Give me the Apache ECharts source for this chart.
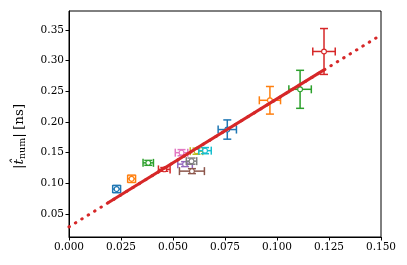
<!DOCTYPE html>
<html><head><meta charset="utf-8">
<script src="https://cdn.jsdelivr.net/npm/echarts@6/dist/echarts.min.js"></script>
<style>html,body{margin:0;padding:0;background:#fff}#c{width:407px;height:265px}</style>
</head><body><div id="c"></div>
<script>
// measured points (x, y) with symmetric errors
const ptX    = [0.0229, 0.0301, 0.0381, 0.0458, 0.0558, 0.0591, 0.0541, 0.0589, 0.0613, 0.0654, 0.0761, 0.0966, 0.1111, 0.1226];
const ptY    = [0.0907, 0.1074, 0.1334, 0.1227, 0.1313, 0.1199, 0.1500, 0.1362, 0.1524, 0.1533, 0.1877, 0.2354, 0.2533, 0.3150];
const ptXErr = [0.0019, 0.0019, 0.0025, 0.0028, 0.0035, 0.0060, 0.0030, 0.0025, 0.0030, 0.0030, 0.0044, 0.0051, 0.0054, 0.0054];
const ptYErr = [0.0060, 0.0060, 0.0040, 0.0030, 0.0040, 0.0040, 0.0050, 0.0050, 0.0050, 0.0050, 0.0157, 0.0225, 0.0310, 0.0374];
const ptColor = ['#1f77b4','#ff7f0e','#2ca02c','#d62728','#9467bd','#8c564b','#e377c2','#7f7f7f','#bcbd22','#17becf','#1f77b4','#ff7f0e','#2ca02c','#d62728'];
// fitted line: solid over data range, dotted extrapolation
const fitSolidX = [0.0186, 0.1226];
const fitSolidY = [0.0678, 0.2850];
const fitDotX = [0.0, 0.15];
const fitDotY = [0.0290, 0.3420];

const font = 'DejaVu Serif';
const chart = echarts.init(document.getElementById('c'), null, {renderer:'canvas'});
const errData = ptX.map((x,i)=>[x, ptY[i], ptXErr[i], ptYErr[i], i]);
const cap = 4;
chart.setOption({
  animation:false,
  grid:{left:69, right:26, top:11, bottom:28, show:true, borderColor:'#000', borderWidth:1, backgroundColor:'transparent'},
  xAxis:{type:'value', min:0, max:0.15, interval:0.025,
    axisLine:{show:true, onZero:false, lineStyle:{color:'#000', width:1}},
    axisTick:{show:true, length:3.5, lineStyle:{color:'#000'}},
    splitLine:{show:false},
    axisLabel:{fontFamily:font, fontSize:10.5, color:'#000', margin:5, formatter:v=>v.toFixed(3)}},
  yAxis:{type:'value', min:0.0125, max:0.381, splitNumber:7,
    axisLine:{show:true, onZero:false, lineStyle:{color:'#000', width:1}},
    axisTick:{show:true, length:3.5, lineStyle:{color:'#000'}},
    splitLine:{show:false},
    axisLabel:{fontFamily:font, fontSize:10.5, color:'#000', margin:5, showMinLabel:false, showMaxLabel:false,
      formatter:v=>v.toFixed(2)}},
  graphic:[{type:'text', x:11, y:169, rotation:Math.PI/2,
    style:{text:'{a||}{t|t̂}{s|num}{a||} {a|[ns]}', rich:{
      a:{fontFamily:font, fontSize:13.5, fill:'#000'},
      t:{fontFamily:font, fontSize:13.5, fontStyle:'italic', fill:'#000'},
      s:{fontFamily:font, fontSize:9.5, fill:'#000', padding:[7,0,0,0]}
    }}}],
  series:[
    {type:'line', data:fitDotX.map((x,i)=>[x,fitDotY[i]]), showSymbol:false, z:5,
      lineStyle:{color:'#d62728', width:3, type:[0.5,7], cap:'round'}},
    {type:'custom', z:3, data:errData,
      renderItem:function(params, api){
        const x=api.value(0), y=api.value(1), xe=api.value(2), ye=api.value(3), idx=api.value(4);
        const c = ptColor[idx];
        const l = api.coord([x-xe,y]), r = api.coord([x+xe,y]);
        const t = api.coord([x,y+ye]), b = api.coord([x,y-ye]);
        const m = api.coord([x,y]);
        const st = {stroke:c, lineWidth:1.5, fill:null};
        return {type:'group', children:[
          {type:'line', shape:{x1:l[0],y1:l[1],x2:r[0],y2:r[1]}, style:st},
          {type:'line', shape:{x1:t[0],y1:t[1],x2:b[0],y2:b[1]}, style:st},
          {type:'line', shape:{x1:l[0],y1:l[1]-cap,x2:l[0],y2:l[1]+cap}, style:st},
          {type:'line', shape:{x1:r[0],y1:r[1]-cap,x2:r[0],y2:r[1]+cap}, style:st},
          {type:'line', shape:{x1:t[0]-cap,y1:t[1],x2:t[0]+cap,y2:t[1]}, style:st},
          {type:'line', shape:{x1:b[0]-cap,y1:b[1],x2:b[0]+cap,y2:b[1]}, style:st},
          {type:'circle', shape:{cx:m[0], cy:m[1], r:2.4}, style:{fill:'#fff', stroke:c, lineWidth:1.1}}
        ]};
      }},
    {type:'line', data:fitSolidX.map((x,i)=>[x,fitSolidY[i]]), showSymbol:false, z:6,
      lineStyle:{color:'#d62728', width:3}}
  ]
});
</script></body></html>
